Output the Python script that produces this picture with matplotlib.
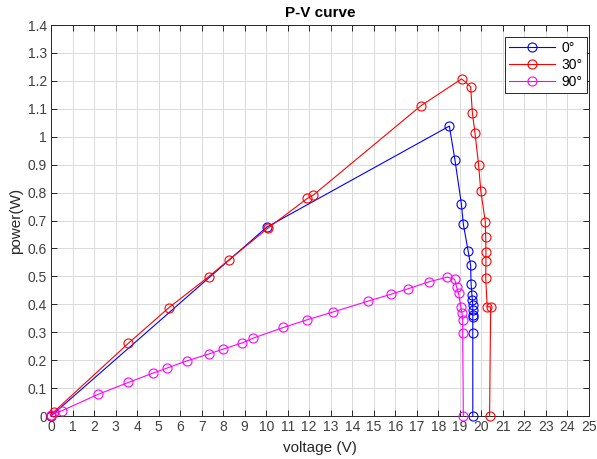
import matplotlib
matplotlib.use("Agg")
import matplotlib.pyplot as plt
import numpy as np

plt.rcParams['font.family'] = ['Liberation Sans', 'DejaVu Sans']

# Data
v0 = [0.0, 10.02, 18.51, 18.77, 19.07, 19.16, 19.38, 19.50, 19.52, 19.56, 19.58, 19.60, 19.60, 19.60, 19.60, 19.60, 19.60]
p0 = [0.0, 0.676, 1.038, 0.917, 0.759, 0.687, 0.592, 0.539, 0.473, 0.433, 0.415, 0.397, 0.380, 0.362, 0.355, 0.298, 0.0]

v30 = [0.0, 0.15, 3.59, 5.48, 7.33, 8.27, 10.07, 11.91, 12.19, 17.19, 19.08, 19.50, 19.58, 19.70, 19.87, 19.97, 20.18, 20.20, 20.21, 20.21, 20.20, 20.27, 20.43, 20.38]
p30 = [0.0, 0.016, 0.260, 0.388, 0.499, 0.559, 0.672, 0.779, 0.791, 1.111, 1.207, 1.179, 1.086, 1.014, 0.899, 0.807, 0.696, 0.642, 0.587, 0.554, 0.493, 0.391, 0.391, 0.0]

v90 = [0.0, 0.51, 2.20, 3.59, 4.72, 5.37, 6.30, 7.33, 7.98, 8.89, 9.40, 10.80, 11.88, 13.09, 14.72, 15.80, 16.57, 17.58, 18.42, 18.76, 18.85, 18.94, 19.04, 19.10, 19.13, 19.13, 19.16]
p90 = [0.005, 0.019, 0.078, 0.120, 0.153, 0.171, 0.197, 0.222, 0.239, 0.262, 0.279, 0.317, 0.344, 0.372, 0.411, 0.436, 0.455, 0.481, 0.497, 0.489, 0.461, 0.439, 0.391, 0.368, 0.344, 0.298, 0.0]

labels = ['0°', '30°', '90°']
colors = ['#0000ff', '#ff0000', '#ff00ff']

fig = plt.figure(figsize=(5.97, 4.59), dpi=100)
ax = fig.add_axes([51/597, 1-416/459, 538/597, 391/459])

for v, p, lab, c in zip([v0, v30, v90], [p0, p30, p90], labels, colors):
    ax.plot(v, p, '-o', color=c, lw=0.8, markersize=6.5, markerfacecolor='none',
            markeredgewidth=0.8, label=lab, clip_on=False, zorder=3)

ax.set_xlim(0, 25)
ax.set_ylim(0, 1.4)
ax.set_xticks(np.arange(0, 26, 1))
yt = np.round(np.arange(0, 1.41, 0.1), 1)
ax.set_yticks(yt)
ax.set_yticklabels([('%g' % t) for t in yt])
ax.grid(True, color='#dadada', lw=0.7)
ax.set_axisbelow(True)
ax.tick_params(direction='in', top=True, right=True, labelsize=10, colors='#262626',
               labelcolor='#404040', length=4, width=0.7, pad=3)
for s in ax.spines.values():
    s.set_color('#262626')
    s.set_linewidth(0.7)

ax.set_xlabel('voltage (V)', fontsize=11, color='#262626', labelpad=5)
ax.set_ylabel('power(W)', fontsize=11, color='#262626', labelpad=3)
ax.set_title('P-V curve', fontsize=11, fontweight='bold', pad=6)

leg = ax.legend(loc='upper right', bbox_to_anchor=((587-51)/538, (416-37)/391),
                borderaxespad=0, fontsize=10, fancybox=False, framealpha=1,
                edgecolor='#262626', handlelength=3.3, borderpad=0.3,
                labelspacing=0.2, handletextpad=0.5)
leg.get_frame().set_linewidth(0.7)

fig.savefig('out.png', dpi=100)
